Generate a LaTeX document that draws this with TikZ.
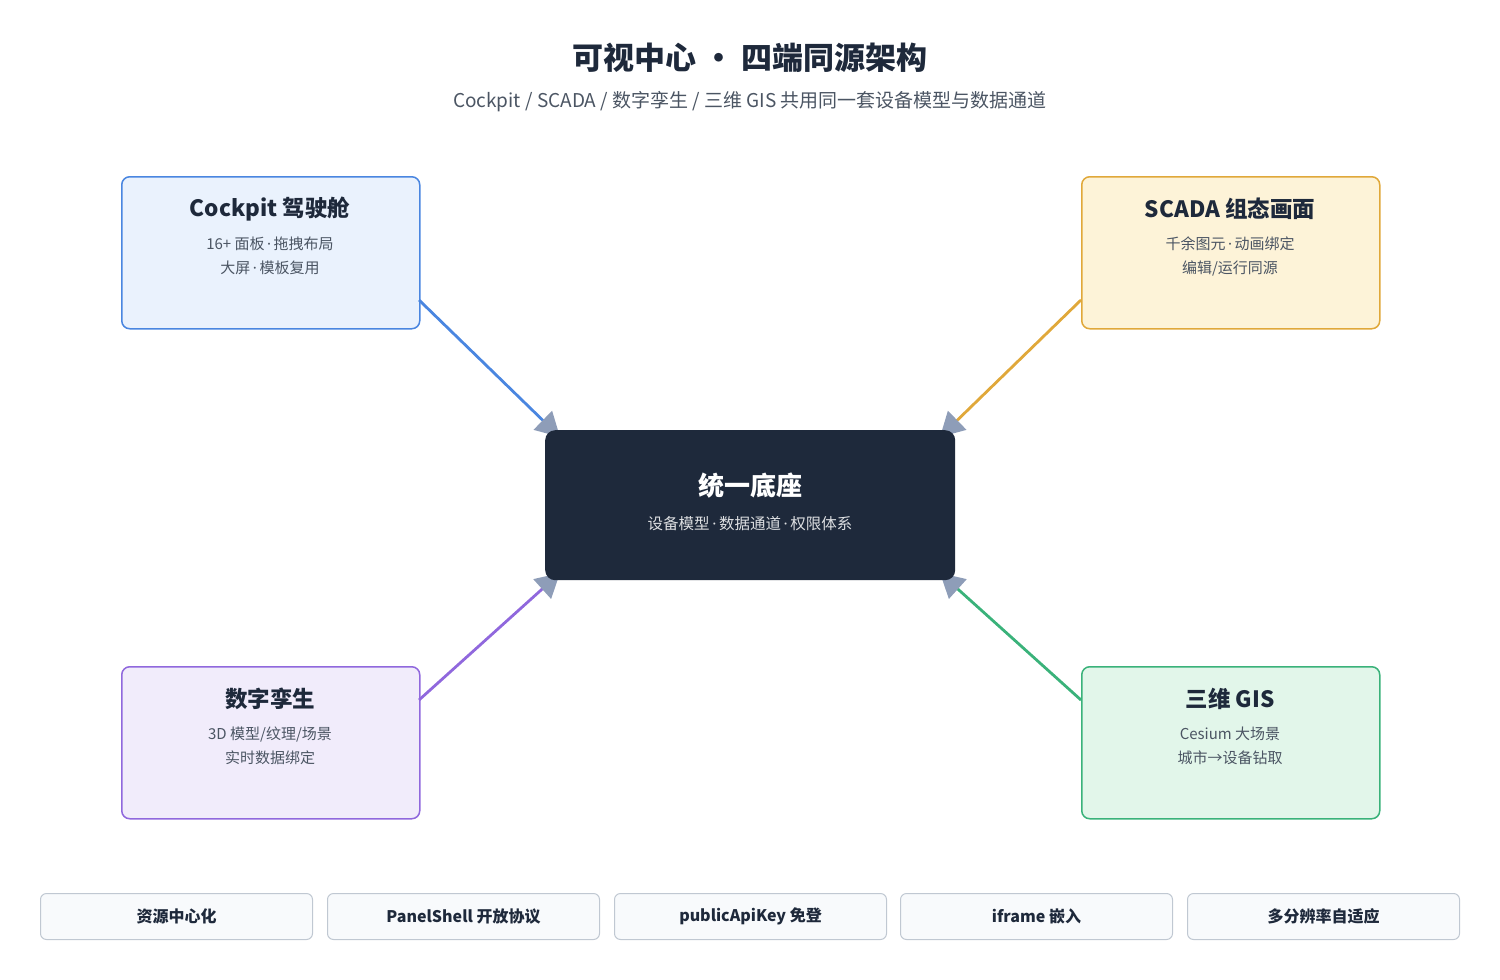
\documentclass[tikz,border=0pt]{standalone}
\usepackage{fontspec}
\setmainfont{Noto Sans CJK SC}
\newfontfamily\lat{Noto Sans}
\newcommand{\md}{{\lat\,·\,}}
\usetikzlibrary{arrows.meta}
\definecolor{ink}{HTML}{1E293B}
\definecolor{sub}{HTML}{4B5563}
\definecolor{arr}{HTML}{8E9DB8}
\begin{document}
\begin{tikzpicture}[x=1pt,y=-1pt,
 card/.style={draw=#1,line width=1.5pt,rounded corners=8pt,minimum width=298pt,minimum height=152pt,anchor=north west},
 ttl/.style={font=\fontsize{22.5}{26}\selectfont\bfseries,text=ink},
 desc/.style={font=\fontsize{15}{24}\selectfont,text=sub,align=center},
 pill/.style={draw=#1,line width=1pt,rounded corners=6pt,minimum width=272pt,minimum height=46pt,anchor=north west},
 plab/.style={font=\fontsize{16}{18}\selectfont\bfseries,text=ink},
 link/.style={draw=#1,line width=2.8pt,-{Triangle[length=24pt,width=26pt,color=arr]}}]
\useasboundingbox (0,0) rectangle (1500,980);
\node[font=\fontsize{31}{36}\selectfont\bfseries,text=ink] (title) at (750,58) {可视中心 • 四端同源架构};
\node[font=\fontsize{19}{22}\selectfont,text=sub] (subt) at (750,102) {Cockpit / SCADA / 数字孪生 / 三维 GIS 共用同一套设备模型与数据通道};
\definecolor{b1}{HTML}{4A86E0}\definecolor{f1}{HTML}{EAF2FD}
\definecolor{b2}{HTML}{E0A83A}\definecolor{f2}{HTML}{FDF3D8}
\definecolor{b3}{HTML}{9068DD}\definecolor{f3}{HTML}{F1ECFB}
\definecolor{b4}{HTML}{3AB27A}\definecolor{f4}{HTML}{E2F6EA}
\definecolor{pb}{HTML}{C0C8D2}\definecolor{pf}{HTML}{F8FAFC}
\node[card=b1,fill=f1] (c1) at (121,176) {};
\node[card=b2,fill=f2] (c2) at (1081,176) {};
\node[card=b3,fill=f3] (c3) at (121,666) {};
\node[card=b4,fill=f4] (c4) at (1081,666) {};
\node[ttl] (t1) at (270,209) {Cockpit 驾驶舱};
\node[desc] (d1) at (270,256) {16+ 面板\md 拖拽布局\\大屏\md 模板复用};
\node[ttl] (t2) at (1230,209) {SCADA 组态画面};
\node[desc] (d2) at (1230,256) {千余图元\md 动画绑定\\编辑/运行同源};
\node[ttl] (t3) at (270,699) {数字孪生};
\node[desc] (d3) at (270,746) {3D 模型/纹理/场景\\实时数据绑定};
\node[ttl] (t4) at (1230,699) {三维 GIS};
\node[desc] (d4) at (1230,746) {Cesium 大场景\\城市→设备钻取};
\coordinate (e1) at (419,300); \coordinate (e2) at (1081,300);
\coordinate (e3) at (419,700); \coordinate (e4) at (1081,700);
\coordinate (h1) at (560,437); \coordinate (h2) at (940,437);
\coordinate (h3) at (560,573); \coordinate (h4) at (940,573);
\draw[link=b1] (e1) -- (h1);
\draw[link=b2] (e2) -- (h2);
\draw[link=b3] (e3) -- (h3);
\draw[link=b4] (e4) -- (h4);
\node[fill=ink,rounded corners=10pt,minimum width=410pt,minimum height=150pt,anchor=north west] (core) at (545,430) {};
\node[font=\fontsize{26}{30}\selectfont\bfseries,text=white] (ct) at (750,486) {统一底座};
\node[font=\fontsize{15.5}{18}\selectfont,text=white!85!ink] (cd) at (750,524) {设备模型\md 数据通道\md 权限体系};
\node[pill=pb,fill=pf] (p1) at (40,893) {};
\node[pill=pb,fill=pf] (p2) at (327,893) {};
\node[pill=pb,fill=pf] (p3) at (614,893) {};
\node[pill=pb,fill=pf] (p4) at (900,893) {};
\node[pill=pb,fill=pf] (p5) at (1187,893) {};
\node[plab] (l1) at (p1.center) {资源中心化};
\node[plab] (l2) at (p2.center) {PanelShell 开放协议};
\node[plab] (l3) at (p3.center) {publicApiKey 免登};
\node[plab] (l4) at (p4.center) {iframe 嵌入};
\node[plab] (l5) at (p5.center) {多分辨率自适应};
\end{tikzpicture}
\end{document}
